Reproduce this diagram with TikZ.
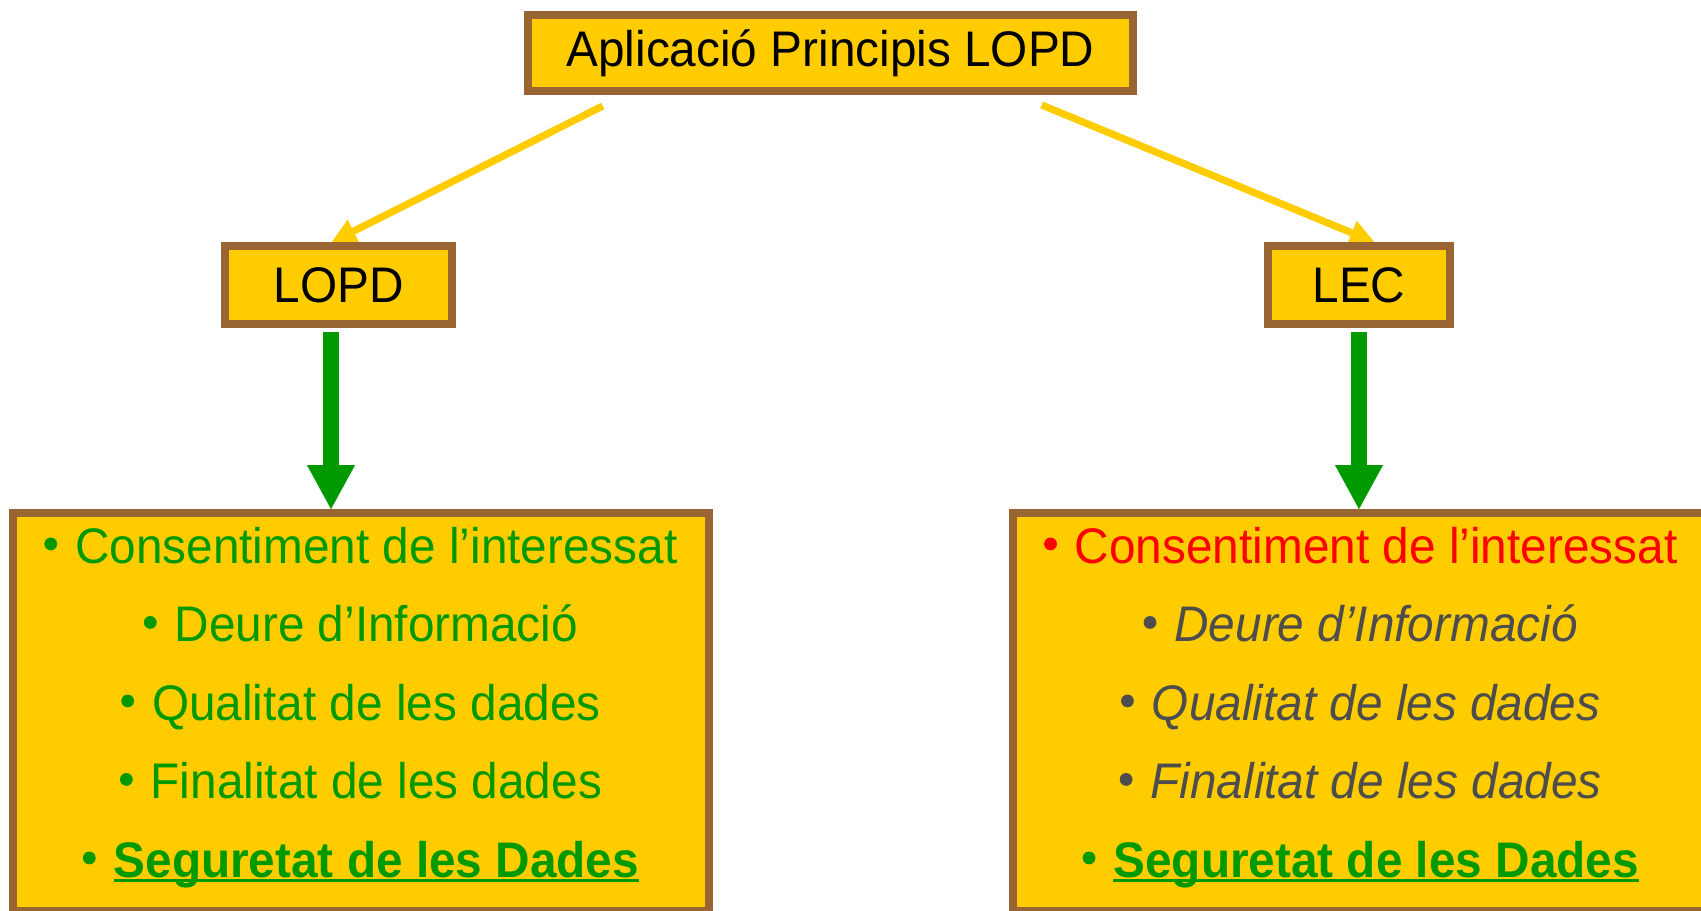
\documentclass[tikz,border=0pt]{standalone}
\usepackage{fontspec}
\setmainfont{Liberation Sans}[FakeStretch=0.955]
\usetikzlibrary{arrows.meta,backgrounds}
\definecolor{boxfill}{HTML}{FFCC00}
\definecolor{boxline}{HTML}{996633}
\definecolor{txtgreen}{HTML}{009900}
\definecolor{txtred}{HTML}{FF0000}
\definecolor{txtgray}{HTML}{4D4D4D}
\newcommand\bul{\tikz[baseline=0pt,x=1pt,y=1pt]\fill (0pt,9.6pt) circle[radius=3.2pt];\hspace{9pt}}
\newcommand\ulin[1]{\setbox0\hbox{#1}\rlap{\rule[-2.5pt]{\wd0}{1.5pt}}\box0}
\begin{document}
\begin{tikzpicture}[x=0.5pt,y=-0.5pt,
  box/.style={draw=boxline,fill=boxfill,line width=4pt,inner sep=0pt,
    font=\fontsize{25}{30}\selectfont},
  listbox/.style={box,align=center,minimum width=347.75pt,minimum height=199pt,
    font=\fontsize{25}{39.25}\selectfont},
  yarrow/.style={color=boxfill,line width=3.6pt,
    -{Triangle[length=12pt,width=13pt,line width=0.01pt,fill=boxfill]}},
  garrow/.style={color=txtgreen,line width=8pt,
    -{Triangle[length=22pt,width=24pt,line width=0.01pt,fill=txtgreen]}}]
\useasboundingbox (0,0) rectangle (1701,910);
\clip (0,0) rectangle (1701,910);
\node[box,minimum width=302.5pt,minimum height=38pt] (top) at (830.5,53) {Aplicació Principis LOPD};
\node[box,minimum width=113.5pt,minimum height=39pt] (lopd) at (338.5,285) {LOPD};
\node[box,minimum width=91pt,minimum height=39pt] (lec) at (1359,285) {LEC};
\node[listbox,text=txtgreen] (bigl) at (361,712) {%
  \bul Consentiment de l’interessat\\
  \bul Deure d’Informació\\
  \bul Qualitat de les dades\\
  \bul Finalitat de les dades\\
  \bul \ulin{\textbf{Seguretat de les Dades}}\rule[-10pt]{0pt}{1pt}};
\node[listbox] (bigr) at (1360.75,712) {%
  {\color{txtred}\bul Consentiment de l’interessat}\\
  {\color{txtgray}\bul \textit{Deure d’Informació}}\\
  {\color{txtgray}\bul \textit{Qualitat de les dades}}\\
  {\color{txtgray}\bul \textit{Finalitat de les dades}}\\
  {\color{txtgreen}\bul \ulin{\textbf{Seguretat de les Dades}}\rule[-10pt]{0pt}{1pt}}};
\coordinate (ys1) at ([xshift=-113.9pt,yshift=-5.5pt]top.south);
\coordinate (ys2) at ([xshift=105.6pt,yshift=-5pt]top.south);
\coordinate (gs1) at ([xshift=-3.75pt,yshift=-2pt]lopd.south);
\coordinate (gs2) at ([yshift=-2pt]lec.south);
\begin{scope}[on background layer]
\draw[yarrow] (ys1) -- ([xshift=-3.25pt]lopd.north);
\draw[yarrow] (ys2) -- ([xshift=7.5pt]lec.north);
\end{scope}
\draw[garrow] (gs1) -- (gs1 |- bigl.north);
\draw[garrow] (gs2) -- (gs2 |- bigr.north);
\end{tikzpicture}
\end{document}
